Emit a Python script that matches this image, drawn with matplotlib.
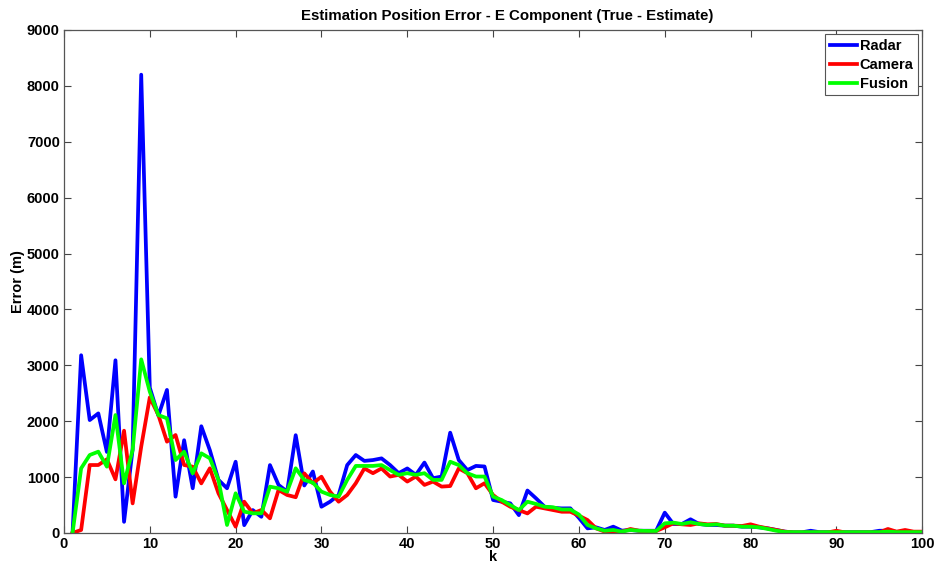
import numpy as np
import matplotlib
matplotlib.use('Agg')
import matplotlib.pyplot as plt

# time steps
k = np.arange(1, 101)

radar = [0, 3180, 2020, 2140, 1450, 3090, 200, 1500, 8200, 2600,
         2100, 2560, 650, 1660, 800, 1910, 1480, 950, 800, 1275,
         140, 410, 290, 1215, 860, 740, 1750, 850, 1100, 470,
         560, 680, 1215, 1395, 1290, 1305, 1335, 1215, 1070, 1155,
         1040, 1260, 980, 1010, 1795, 1305, 1125, 1200, 1190, 590,
         560, 530, 320, 760, 620, 470, 450, 440, 441, 270,
         83, 101, 54, 113, 42, 54, 40, 40, 40, 364,
         161, 161, 245, 161, 143, 143, 131, 131, 113, 113,
         101, 83, 54, 24, 12, 12, 40, 15, 15, 15,
         15, 15, 15, 15, 40, 40, 20, 20, 20, 20]

camera = [0, 54, 1216, 1216, 1318, 960, 1830, 530, 1545, 2427,
          2110, 1634, 1753, 1216, 1186, 888, 1157, 710, 411, 113,
          560, 352, 411, 262, 770, 680, 640, 1067, 890, 1007,
          740, 560, 680, 890, 1155, 1070, 1155, 1010, 1040, 920,
          1010, 860, 920, 830, 840, 1155, 1070, 800, 890, 680,
          560, 470, 410, 350, 470, 440, 410, 380, 380, 310,
          232, 83, 24, 12, 24, 72, 40, 36, 36, 101,
          173, 155, 143, 173, 155, 161, 131, 131, 125, 155,
          113, 83, 54, 24, 10, 10, 10, 10, 10, 40,
          10, 10, 10, 10, 10, 72, 24, 54, 24, 24]

fusion = [0, 1157, 1395, 1455, 1187, 2110, 888, 1485, 3107, 2528,
          2110, 2051, 1306, 1455, 1067, 1425, 1336, 948, 143, 710,
          382, 352, 352, 829, 799, 739, 1157, 948, 900, 740,
          680, 650, 950, 1200, 1200, 1200, 1215, 1125, 1040, 1070,
          1040, 1070, 950, 950, 1275, 1215, 1070, 1010, 1010, 650,
          590, 500, 410, 560, 520, 470, 460, 420, 420, 330,
          143, 83, 40, 54, 24, 54, 40, 36, 36, 173,
          185, 161, 191, 161, 143, 155, 131, 131, 113, 113,
          101, 72, 40, 18, 15, 15, 15, 15, 15, 15,
          15, 15, 15, 15, 15, 25, 15, 15, 15, 15]

plt.rcParams['font.family'] = ['Liberation Sans', 'DejaVu Sans']
plt.rcParams['font.weight'] = 'bold'

fig = plt.figure(figsize=(9.38, 5.72), dpi=100)
ax = fig.add_axes([0.0682, 0.0682, 0.915, 0.8794])

ax.plot(k, radar, color=(0, 0, 1), lw=2.7, label='Radar')
ax.plot(k, camera, color=(1, 0, 0), lw=2.7, label='Camera')
ax.plot(k, fusion, color=(0, 1, 0), lw=2.7, label='Fusion')

ax.set_xlim(0, 100)
ax.set_ylim(0, 9000)
ax.set_xticks(np.arange(0, 101, 10))
ax.set_yticks(np.arange(0, 9001, 1000))
ax.tick_params(direction='in', top=True, right=True, length=5,
               width=0.8, color='#444444', labelsize=10.5, pad=3)
for lbl in ax.get_xticklabels() + ax.get_yticklabels():
    lbl.set_fontweight('bold')
for s in ax.spines.values():
    s.set_color('#555555')
    s.set_linewidth(0.9)

ax.set_xlabel('k', fontsize=10.5, fontweight='bold', labelpad=-1)
ax.set_ylabel('Error (m)', fontsize=10.5, fontweight='bold', labelpad=1)
ax.set_title('Estimation Position Error - E Component (True - Estimate)',
             fontsize=10.8, fontweight='bold', pad=7, x=0.516)

leg = ax.legend(loc='upper right', fontsize=10.5, fancybox=False,
                framealpha=1, edgecolor='#555555', handlelength=1.9,
                handletextpad=0.15, borderpad=0.3, labelspacing=0.35,
                borderaxespad=0.3)
leg.get_frame().set_linewidth(0.8)
for t in leg.get_texts():
    t.set_fontweight('bold')

fig.savefig('out.png', dpi=100)
